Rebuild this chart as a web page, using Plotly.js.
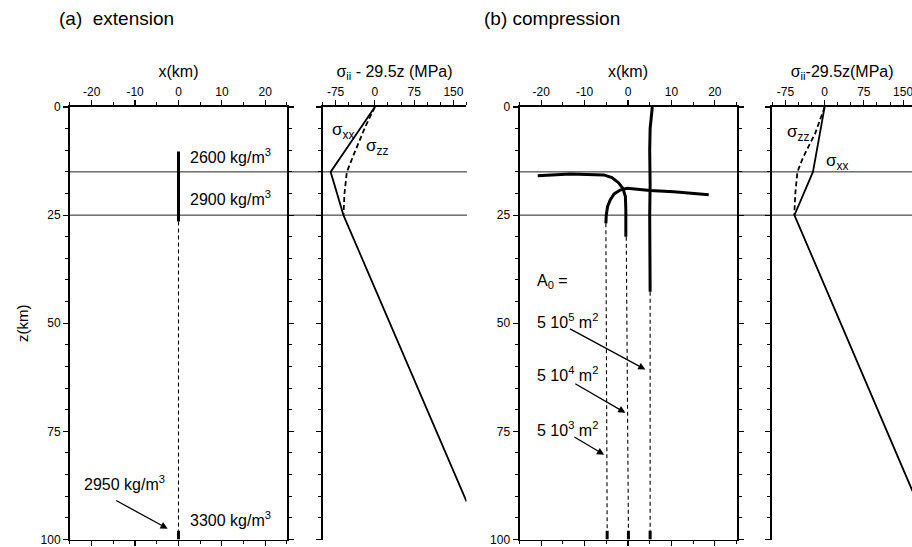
<!DOCTYPE html>
<html>
<head>
<meta charset="utf-8">
<script src="https://cdn.plot.ly/plotly-3.0.1.min.js"></script>
<style>html,body{margin:0;padding:0;background:#fff;}#chart{width:912px;height:547px;}</style>
</head>
<body>
<div id="chart"></div>
<script>
// ---------- data ----------
// layer boundaries (km)
const layerDepths = [15, 25];

// (a) extension: dike trajectory x(km) vs z(km)
const extThickX = [0, 0];
const extThickZ = [10.3, 26.5];
const extDashX = [0, 0];
const extDashZ = [26.5, 98];
const extBottomX = [0, 0];
const extBottomZ = [98, 100];

// (a) stress profiles sigma_ii - 29.5 z (MPa)
const extSxx = [0, -84.5, -60, 175];
const extSxxZ = [0, 15, 25, 91.2];
const extSzz = [0, -18, -37, -53.5, -58, -60];
const extSzzZ = [0, 4.5, 10, 15, 20, 25];

// (b) compression: three trajectories (A0 = 5e5, 5e4, 5e3 m^2)
const compAX = [5.6, 5.1, 5.0, 5.1, 5.0, 5.0, 5.1];
const compAZ = [0, 5, 10, 18, 25, 35, 42.7];
const compADashX = [5.1, 5.1];
const compADashZ = [42.7, 98];

const compBX = [-20.8, -13.3, -5.6, -3.7, -2.2, -1.2, -0.6, -0.5, -0.5];
const compBZ = [15.9, 15.5, 15.7, 16.3, 17.5, 18.8, 20.7, 23.8, 30];
const compBDashX = [-0.4, 0.1];
const compBDashZ = [30, 98];

const compCX = [18.6, 14.4, 10.5, 5.1, 1.3, -0.2, -1.8, -3.2, -4.1, -4.7, -5.0, -5.1];
const compCZ = [20.3, 19.9, 19.6, 19.3, 18.9, 18.8, 19.2, 20.1, 21.5, 23.0, 24.9, 26.9];
const compCDashX = [-5.1, -4.8];
const compCDashZ = [26.9, 98];

const compBottomX = [-4.8, 0.1, 5.1];
const compBottomZ0 = [98, 98, 98];
const compBottomZ1 = [100, 100, 100];

// (b) stress profiles
const compSxx = [0, -22.3, -57.7, 168];
const compSxxZ = [0, 15, 25, 88.8];
const compSzz = [0, -18, -34, -43, -52, -56, -58];
const compSzzZ = [0, 6.1, 9.9, 12.2, 15, 20, 25];

// tick / range settings
const xKmRange = [-25, 25];
const zRange = [100, 0];
const zTicks = [0, 25, 50, 75, 100];
const xKmTicks = [-20, -10, 0, 10, 20];
const stressTicks = [-75, 0, 75, 150];

// ---------- styling ----------
const FONT = 'Liberation Sans, Arial, Helvetica, sans-serif';
const thick = {color: '#000', width: 3};
const thin = {color: '#000', width: 1.1, dash: '4px,3px'};

function line(x, y, xa, ya, ln) {
  return {x: x, y: y, xaxis: xa, yaxis: ya, mode: 'lines', line: ln,
          hoverinfo: 'skip', showlegend: false};
}

const traces = [
  line(extThickX, extThickZ, 'x', 'y', thick),
  line(extDashX, extDashZ, 'x', 'y', thin),
  line(extBottomX, extBottomZ, 'x', 'y', thick),
  line(extSxx, extSxxZ, 'x2', 'y2', {color: '#000', width: 1.8}),
  line(extSzz, extSzzZ, 'x2', 'y2', {color: '#000', width: 1.8, dash: '5px,3px'}),
  line(compAX, compAZ, 'x3', 'y3', thick),
  line(compADashX, compADashZ, 'x3', 'y3', thin),
  line(compBX, compBZ, 'x3', 'y3', thick),
  line(compBDashX, compBDashZ, 'x3', 'y3', thin),
  line(compCX, compCZ, 'x3', 'y3', thick),
  line(compCDashX, compCDashZ, 'x3', 'y3', thin),
  line(compSxx, compSxxZ, 'x4', 'y4', {color: '#000', width: 1.8}),
  line(compSzz, compSzzZ, 'x4', 'y4', {color: '#000', width: 1.8, dash: '5px,3px'})
];
for (let i = 0; i < compBottomX.length; i++) {
  traces.push(line([compBottomX[i], compBottomX[i]], [compBottomZ0[i], compBottomZ1[i]], 'x3', 'y3', thick));
}

const tickFont = {family: FONT, size: 12, color: '#000'};
const titleFont = {family: FONT, size: 16, color: '#000'};

function xKmAxis(domain, anchor) {
  return {domain: domain, anchor: anchor, side: 'top', range: xKmRange,
    tickmode: 'array', tickvals: xKmTicks, ticktext: xKmTicks.map(String),
    ticks: 'outside', ticklen: 5, tickwidth: 1.2, tickcolor: '#000',
    minor: {dtick: 5, tick0: 0, ticks: 'outside', ticklen: 3, tickwidth: 1, tickcolor: '#000', showgrid: false},
    showline: true, linewidth: 1.5, linecolor: '#000', mirror: 'allticks',
    showgrid: false, zeroline: false, tickfont: tickFont, ticklabeloverflow: 'allow',
    title: {text: 'x(km)', font: titleFont, standoff: 3}, automargin: false, fixedrange: true};
}
function xStressAxis(domain, anchor, range, titleText) {
  return {domain: domain, anchor: anchor, side: 'top', range: range,
    tickmode: 'array', tickvals: stressTicks, ticktext: stressTicks.map(String),
    ticks: 'outside', ticklen: 5, tickwidth: 1.2, tickcolor: '#000',
    minor: {dtick: 25, tick0: 0, ticks: 'outside', ticklen: 3, tickwidth: 1, tickcolor: '#000', showgrid: false},
    showline: true, linewidth: 1.5, linecolor: '#000', mirror: false,
    showgrid: false, zeroline: false, tickfont: tickFont, ticklabeloverflow: 'allow',
    title: {text: titleText, font: titleFont, standoff: 3}, automargin: false, fixedrange: true};
}
function zAxis(anchor, showLabels, mirror, titleText) {
  const ax = {domain: [0.01371, 0.80439], anchor: anchor, range: zRange,
    tickmode: 'array', tickvals: zTicks, ticktext: zTicks.map(String),
    ticks: 'outside', ticklen: 5, tickwidth: 1.2, tickcolor: '#000',
    minor: {dtick: 5, tick0: 0, ticks: 'outside', ticklen: 3, tickwidth: 1, tickcolor: '#000', showgrid: false},
    showline: true, linewidth: 2, linecolor: '#000', mirror: mirror,
    showgrid: false, zeroline: false, showticklabels: showLabels, tickfont: tickFont,
    ticklabeloverflow: 'allow', automargin: false, fixedrange: true};
  if (titleText) ax.title = {text: titleText, font: {family: FONT, size: 15, color: '#000'}, standoff: 8};
  return ax;
}

const shapes = [];
layerDepths.forEach(function (z) {
  shapes.push({type: 'line', xref: 'paper', yref: 'y', x0: 0.0746, x1: 0.512, y0: z, y1: z,
               line: {color: '#222', width: 1}, layer: 'below'});
  shapes.push({type: 'line', xref: 'paper', yref: 'y3', x0: 0.5696, x1: 1, y0: z, y1: z,
               line: {color: '#222', width: 1}, layer: 'below'});
});

function txt(xref, yref, x, y, text, size) {
  return {xref: xref, yref: yref, x: x, y: y, text: text, showarrow: false,
          xanchor: 'left', yanchor: 'middle', font: {family: FONT, size: size || 16, color: '#000'}};
}
function arrow(xref, yref, x, y, ax, ay) {
  return {xref: xref, yref: yref, x: x, y: y, ax: ax, ay: ay, axref: xref, ayref: yref,
          text: '', showarrow: true, arrowhead: 2, arrowsize: 1.1, arrowwidth: 1.3, arrowcolor: '#000'};
}

const annotations = [
  txt('paper', 'paper', 0.0625, 0.967, '(a)&nbsp;&nbsp;extension', 19),
  txt('paper', 'paper', 0.528, 0.967, '(b)&nbsp;compression', 19),
  txt('x', 'y', 2.1, 11.3, '2600 kg/m<sup>3</sup>'),
  txt('x', 'y', 2.1, 21.0, '2900 kg/m<sup>3</sup>'),
  txt('x', 'y', -22.2, 87.0, '2950 kg/m<sup>3</sup>'),
  txt('x', 'y', 2.1, 95.2, '3300 kg/m<sup>3</sup>'),
  arrow('x', 'y', -2.5, 97.5, -14.7, 90.8),
  txt('x2', 'y2', -86, 5.6, 'σ<sub>xx</sub>', 17),
  txt('x2', 'y2', -21, 9.3, 'σ<sub>zz</sub>', 17),
  txt('x3', 'y3', -21.4, 40.4, 'A<sub>0</sub> ='),
  txt('x3', 'y3', -21.4, 49.4, '5 10<sup>5</sup> m<sup>2</sup>'),
  txt('x3', 'y3', -21.4, 61.7, '5 10<sup>4</sup> m<sup>2</sup>'),
  txt('x3', 'y3', -21.4, 74.4, '5 10<sup>3</sup> m<sup>2</sup>'),
  arrow('x3', 'y3', 4.0, 60.7, -13.7, 51.1),
  arrow('x3', 'y3', -0.6, 70.7, -12.5, 63.8),
  arrow('x3', 'y3', -5.5, 80.4, -12.7, 76.1),
  txt('x4', 'y4', -75.6, 6.0, 'σ<sub>zz</sub>', 17),
  txt('x4', 'y4', -2, 12.7, 'σ<sub>xx</sub>', 17)
];

const layout = {
  width: 912, height: 547,
  margin: {l: 0, r: 0, t: 0, b: 0},
  paper_bgcolor: '#fff', plot_bgcolor: 'rgba(0,0,0,0)',
  font: {family: FONT, color: '#000'},
  showlegend: false,
  xaxis: xKmAxis([0.07675, 0.31469], 'y'),
  yaxis: zAxis('x', true, 'allticks', 'z(km)'),
  xaxis2: xStressAxis([0.35362, 0.51151], 'y2', [-100, 175], 'σ<sub>ii</sub> - 29.5z (MPa)'),
  yaxis2: zAxis('x2', false, false, null),
  xaxis3: xKmAxis([0.56963, 0.80757], 'y3'),
  yaxis3: zAxis('x3', true, 'allticks', null),
  xaxis4: xStressAxis([0.84682, 1], 'y4', [-100, 167], 'σ<sub>ii</sub>-29.5z(MPa)'),
  yaxis4: zAxis('x4', false, false, null),
  shapes: shapes,
  annotations: annotations
};

Plotly.newPlot('chart', traces, layout, {displayModeBar: false, staticPlot: true});
</script>
</body>
</html>
